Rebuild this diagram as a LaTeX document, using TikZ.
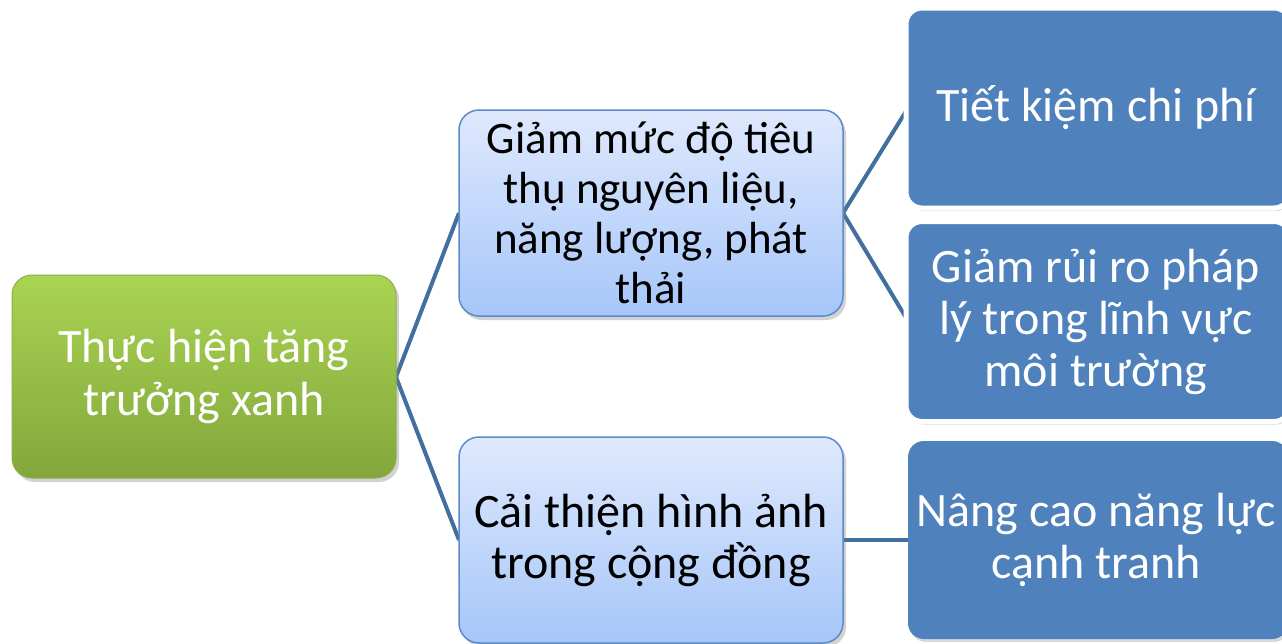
\documentclass[tikz,border=0pt]{standalone}
\usepackage{fontspec}
\setmainfont{Carlito}
\usetikzlibrary{shadows}
\definecolor{greentop}{HTML}{AAD452}
\definecolor{greenbot}{HTML}{82A63C}
\definecolor{greenedge}{HTML}{8DB04A}
\definecolor{lbtop}{HTML}{DFE9FD}
\definecolor{lbbot}{HTML}{A6C6F9}
\definecolor{lbedge}{HTML}{5C8BC8}
\definecolor{dblue}{HTML}{4F81BD}
\definecolor{conn}{HTML}{41709E}
\begin{document}
\begin{tikzpicture}[x=1pt,y=-1pt,
  rootbox/.style={rectangle,rounded corners=20pt,minimum width=384pt,minimum height=203pt,
    top color=greentop,bottom color=greenbot,draw=greenedge,line width=1pt,
    drop shadow={shadow xshift=3pt,shadow yshift=-4pt,opacity=0.35},
    text=white,align=center,font=\fontsize{48}{53}\selectfont,inner sep=0pt},
  midbox/.style={rectangle,rounded corners=20pt,minimum width=384pt,minimum height=206pt,
    top color=lbtop,bottom color=lbbot,draw=lbedge,line width=1.5pt,
    drop shadow={shadow xshift=3pt,shadow yshift=-4pt,opacity=0.35},
    text=black,align=center,font=\fontsize{45}{50}\selectfont,inner sep=0pt},
  leafbox/.style={rectangle,rounded corners=16pt,minimum width=384pt,minimum height=200pt,
    fill=dblue,draw=white,line width=5pt,
    drop shadow={shadow xshift=2pt,shadow yshift=-3pt,opacity=0.3},
    text=white,align=center,font=\fontsize{48}{52}\selectfont,inner sep=0pt},
  link/.style={draw=conn,line width=4pt}]
\useasboundingbox (0,0) rectangle (1282,643);
\fill[white] (0,0) rectangle (1282,643);
% connector end points
\coordinate (rootR) at (396,377);
\coordinate (m1L) at (459,213);
\coordinate (m2L) at (459,540);
\coordinate (m1R) at (843,213);
\coordinate (m2R) at (843,540);
\coordinate (l1L) at (908,108);
\coordinate (l2L) at (908,321);
\coordinate (l3L) at (908,540);
\draw[link] (m1L) -- (rootR) -- (m2L);
\draw[link] (l1L) -- (m1R) -- (l2L);
\draw[link] (m2R) -- (l3L);
% boxes
\node[rootbox] (root) at (204,376.5) {Thực hiện tăng\\trưởng xanh};
\node[midbox] (m1) at (651,213) {Giảm mức độ tiêu\\thụ nguyên liệu,\\năng lượng, phát\\thải};
\node[midbox,font=\fontsize{48}{51}\selectfont] (m2) at (651,540) {Cải thiện hình ảnh\\trong cộng đồng};
\node[leafbox] (l1) at (1098,108) {\hspace*{-4pt}Tiết kiệm chi phí};
\node[leafbox] (l2) at (1098,321.5) {\hspace*{-4pt}Giảm rủi ro pháp\\\hspace*{-4pt}lý trong lĩnh vực\\\hspace*{-4pt}môi trường};
\node[leafbox,draw=none,minimum width=380pt,minimum height=198pt] (l3) at (1098,540) {\hspace*{-4pt}Nâng cao năng lực\\\hspace*{-4pt}cạnh tranh};
\end{tikzpicture}
\end{document}
